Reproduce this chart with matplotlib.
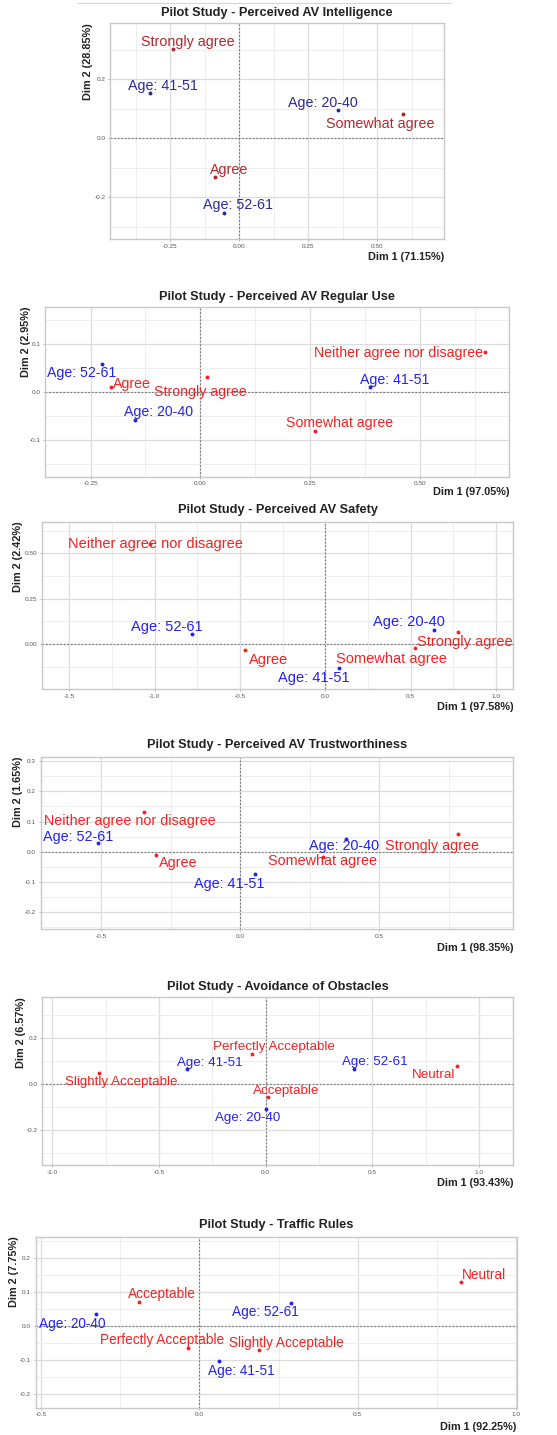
import matplotlib
matplotlib.use("Agg")
import matplotlib.pyplot as plt
from matplotlib.lines import Line2D
from matplotlib.ticker import MultipleLocator, FormatStrFormatter

plt.rcParams["font.family"] = ["Liberation Sans", "DejaVu Sans"]

# ---- data ----
# Panel 1 - Perceived AV Intelligence
intel_rows = ["Strongly agree", "Somewhat agree", "Agree"]
intel_row_x = [-0.239, 0.594, -0.088]
intel_row_y = [0.302, 0.081, -0.130]
intel_cols = ["Age: 41-51", "Age: 20-40", "Age: 52-61"]
intel_col_x = [-0.324, 0.357, -0.054]
intel_col_y = [0.153, 0.096, -0.252]

# Panel 2 - Perceived AV Regular Use
use_rows = ["Agree", "Strongly agree", "Neither agree nor disagree", "Somewhat agree"]
use_row_x = [-0.204, 0.015, 0.649, 0.261]
use_row_y = [0.009, 0.030, 0.083, -0.082]
use_cols = ["Age: 52-61", "Age: 20-40", "Age: 41-51"]
use_col_x = [-0.225, -0.149, 0.387]
use_col_y = [0.058, -0.058, 0.009]

# Panel 3 - Perceived AV Safety
safe_rows = ["Neither agree nor disagree", "Agree", "Somewhat agree", "Strongly agree"]
safe_row_x = [-1.029, -0.469, 0.525, 0.779]
safe_row_y = [0.550, -0.035, -0.024, 0.068]
safe_cols = ["Age: 52-61", "Age: 41-51", "Age: 20-40"]
safe_col_x = [-0.779, 0.082, 0.637]
safe_col_y = [0.053, -0.132, 0.077]

# Panel 4 - Perceived AV Trustworthiness
trust_rows = ["Neither agree nor disagree", "Agree", "Somewhat agree", "Strongly agree"]
trust_row_x = [-0.344, -0.302, 0.297, 0.785]
trust_row_y = [0.132, -0.011, -0.017, 0.058]
trust_cols = ["Age: 52-61", "Age: 41-51", "Age: 20-40"]
trust_col_x = [-0.512, 0.054, 0.381]
trust_col_y = [0.028, -0.074, 0.042]

# Panel 5 - Avoidance of Obstacles
obst_rows = ["Slightly Acceptable", "Perfectly Acceptable", "Acceptable", "Neutral"]
obst_row_x = [-0.781, -0.066, 0.009, 0.895]
obst_row_y = [0.047, 0.131, -0.058, 0.080]
obst_cols = ["Age: 41-51", "Age: 20-40", "Age: 52-61"]
obst_col_x = [-0.367, 0.004, 0.414]
obst_col_y = [0.064, -0.111, 0.064]

# Panel 6 - Traffic Rules
traf_rows = ["Neutral", "Acceptable", "Perfectly Acceptable", "Slightly Acceptable"]
traf_row_x = [0.826, -0.190, -0.037, 0.189]
traf_row_y = [0.129, 0.071, -0.064, -0.071]
traf_cols = ["Age: 20-40", "Age: 52-61", "Age: 41-51"]
traf_col_x = [-0.327, 0.289, 0.062]
traf_col_y = [0.036, 0.066, -0.104]

titles = ["Pilot Study - Perceived AV Intelligence",
          "Pilot Study - Perceived AV Regular Use",
          "Pilot Study - Perceived AV Safety",
          "Pilot Study - Perceived AV Trustworthiness",
          "Pilot Study - Avoidance of Obstacles",
          "Pilot Study - Traffic Rules"]
dim1_labels = ["Dim 1 (71.15%)", "Dim 1 (97.05%)", "Dim 1 (97.58%)",
               "Dim 1 (98.35%)", "Dim 1 (93.43%)", "Dim 1 (92.25%)"]
dim2_labels = ["Dim 2 (28.85%)", "Dim 2 (2.95%)", "Dim 2 (2.42%)",
               "Dim 2 (1.65%)", "Dim 2 (6.57%)", "Dim 2 (7.75%)"]

# ---- layout / style ----
W, H = 557, 1435
# axes boxes in pixels: left, top, right, bottom
boxes = [(110, 23, 444, 239), (45, 306.7, 509.3, 476.7), (41.7, 521.7, 513.3, 689),
         (40.7, 756.7, 513.3, 929), (42.3, 997.3, 513.3, 1165), (35.7, 1236.7, 516.7, 1407.7)]
xlims = [(-0.468, 0.742), (-0.354, 0.704), (-1.661, 1.101),
         (-0.717, 0.983), (-1.047, 1.161), (-0.517, 1.002)]
ylims = [(-0.341, 0.391), (-0.177, 0.177), (-0.248, 0.675),
         (-0.255, 0.314), (-0.354, 0.379), (-0.241, 0.262)]
xsteps = [0.25, 0.25, 0.5, 0.5, 0.5, 0.5]
ysteps = [0.2, 0.1, 0.25, 0.1, 0.2, 0.1]
xfmts = ["%.2f", "%.2f", "%.1f", "%.1f", "%.1f", "%.1f"]
yfmts = ["%.1f", "%.1f", "%.2f", "%.1f", "%.1f", "%.1f"]
label_sizes = [10.3, 10.2, 10.5, 10.4, 9.6, 9.8]
title_y = [13, 296.7, 510, 745, 986.7, 1225]
xlab_pad = [17.7, 15, 17.7, 18.7, 18.3, 19]
ylab_pad = [22, 19, 23.5, 23, 21.5, 21.5]

# label offsets in pixels (dx right, dy down)
row_offs = [[(14.4, -7.6), (-23.3, 9.7), (14, -6.7)],
            [(20.7, -3.3), (-6.7, 14.4), (-86.7, 1.3), (25, -7.7)],
            [(6, 0), (23, 9.7), (-24, 10.7), (6.7, 10.6)],
            [(-15, 9), (22.3, 8.3), (0, 4), (-26, 11.7)],
            [(22.7, 9), (22.3, -7.3), (18.3, -6.6), (-22.7, 9.3)],
            [(23, -6.7), (22.7, -7.4), (-25.4, -7.3), (27.4, -7.3)]]
col_offs = [[(13.3, -7.3), (-15, -7.3), (13.4, -7.4)],
            [(-20, 8.7), (23.3, -7.7), (24.3, -7.3)],
            [(-25.6, -7.6), (-25, 9.7), (-24.7, -7.7)],
            [(-20, -6.6), (-25.7, 10.3), (-1.7, 6.7)],
            [(22, -6.6), (-18.4, 9), (21, -7)],
            [(-24, 10), (-25.7, 9), (22.7, 9.7)]]

panels = [
    (intel_rows, intel_row_x, intel_row_y, intel_cols, intel_col_x, intel_col_y),
    (use_rows, use_row_x, use_row_y, use_cols, use_col_x, use_col_y),
    (safe_rows, safe_row_x, safe_row_y, safe_cols, safe_col_x, safe_col_y),
    (trust_rows, trust_row_x, trust_row_y, trust_cols, trust_col_x, trust_col_y),
    (obst_rows, obst_row_x, obst_row_y, obst_cols, obst_col_x, obst_col_y),
    (traf_rows, traf_row_x, traf_row_y, traf_cols, traf_col_x, traf_col_y),
]
red_cols = ["#B0282C"] + ["#F52222"] * 5
blue_cols = ["#2B2B98"] + ["#2323F0"] * 5

fig = plt.figure(figsize=(W / 100, H / 100), dpi=100)
fig.add_artist(Line2D([78 / W, 451 / W], [1 - 3 / H, 1 - 3 / H], color="#D5D5D5", lw=0.8))

for i, (rows, rx, ry, cols, cx, cy) in enumerate(panels):
    l, t, r, b = boxes[i]
    ax = fig.add_axes([l / W, 1 - b / H, (r - l) / W, (b - t) / H])
    ax.set_xlim(*xlims[i])
    ax.set_ylim(*ylims[i])
    ax.xaxis.set_major_locator(MultipleLocator(xsteps[i]))
    ax.yaxis.set_major_locator(MultipleLocator(ysteps[i]))
    ax.xaxis.set_minor_locator(MultipleLocator(xsteps[i] / 2))
    ax.yaxis.set_minor_locator(MultipleLocator(ysteps[i] / 2))
    ax.xaxis.set_major_formatter(FormatStrFormatter(xfmts[i]))
    ax.yaxis.set_major_formatter(FormatStrFormatter(yfmts[i]))
    ax.grid(which="major", color="#DCDCDC", lw=0.9)
    ax.grid(which="minor", color="#EBEBEB", lw=0.6)
    ax.set_axisbelow(True)
    ax.tick_params(which="major", labelsize=4.6, labelcolor="#555555", color="#999999",
                   length=1.5, width=0.5, pad=1.8)
    ax.tick_params(which="minor", length=0)
    for s in ax.spines.values():
        s.set_color("#C8C8C8")
        s.set_linewidth(1.0)
    ax.axhline(0, color="#777777", lw=0.8, ls=(0, (1.6, 1.6)), zorder=1.5)
    ax.axvline(0, color="#777777", lw=0.8, ls=(0, (1.6, 1.6)), zorder=1.5)

    ax.plot(rx, ry, "o", ms=1.8, color=red_cols[i], zorder=3)
    ax.plot(cx, cy, "o", ms=1.8, color=blue_cols[i], zorder=3)
    for lab, x, y, (dx, dy) in zip(rows, rx, ry, row_offs[i]):
        ax.annotate(lab, (x, y), xytext=(dx, -dy), textcoords="offset pixels",
                    ha="center", va="center", color=red_cols[i], fontsize=label_sizes[i], zorder=4)
    for lab, x, y, (dx, dy) in zip(cols, cx, cy, col_offs[i]):
        ax.annotate(lab, (x, y), xytext=(dx, -dy), textcoords="offset pixels",
                    ha="center", va="center", color=blue_cols[i], fontsize=label_sizes[i], zorder=4)

    fig.text((l + r) / 2 / W, 1 - title_y[i] / H, titles[i], ha="center", va="center",
             fontsize=9.2, fontweight="bold", color="#222222")
    ax.annotate(dim1_labels[i], (1, 0), xycoords="axes fraction", xytext=(0, -xlab_pad[i]),
                textcoords="offset pixels", ha="right", va="center",
                fontsize=7.8, fontweight="bold", color="#222222")
    ax.annotate(dim2_labels[i], (0, 1), xycoords="axes fraction", xytext=(-ylab_pad[i], 0),
                textcoords="offset pixels", ha="center", va="top", rotation=90,
                fontsize=7.8, fontweight="bold", color="#222222")

fig.savefig("out.png", dpi=100, facecolor="white")
